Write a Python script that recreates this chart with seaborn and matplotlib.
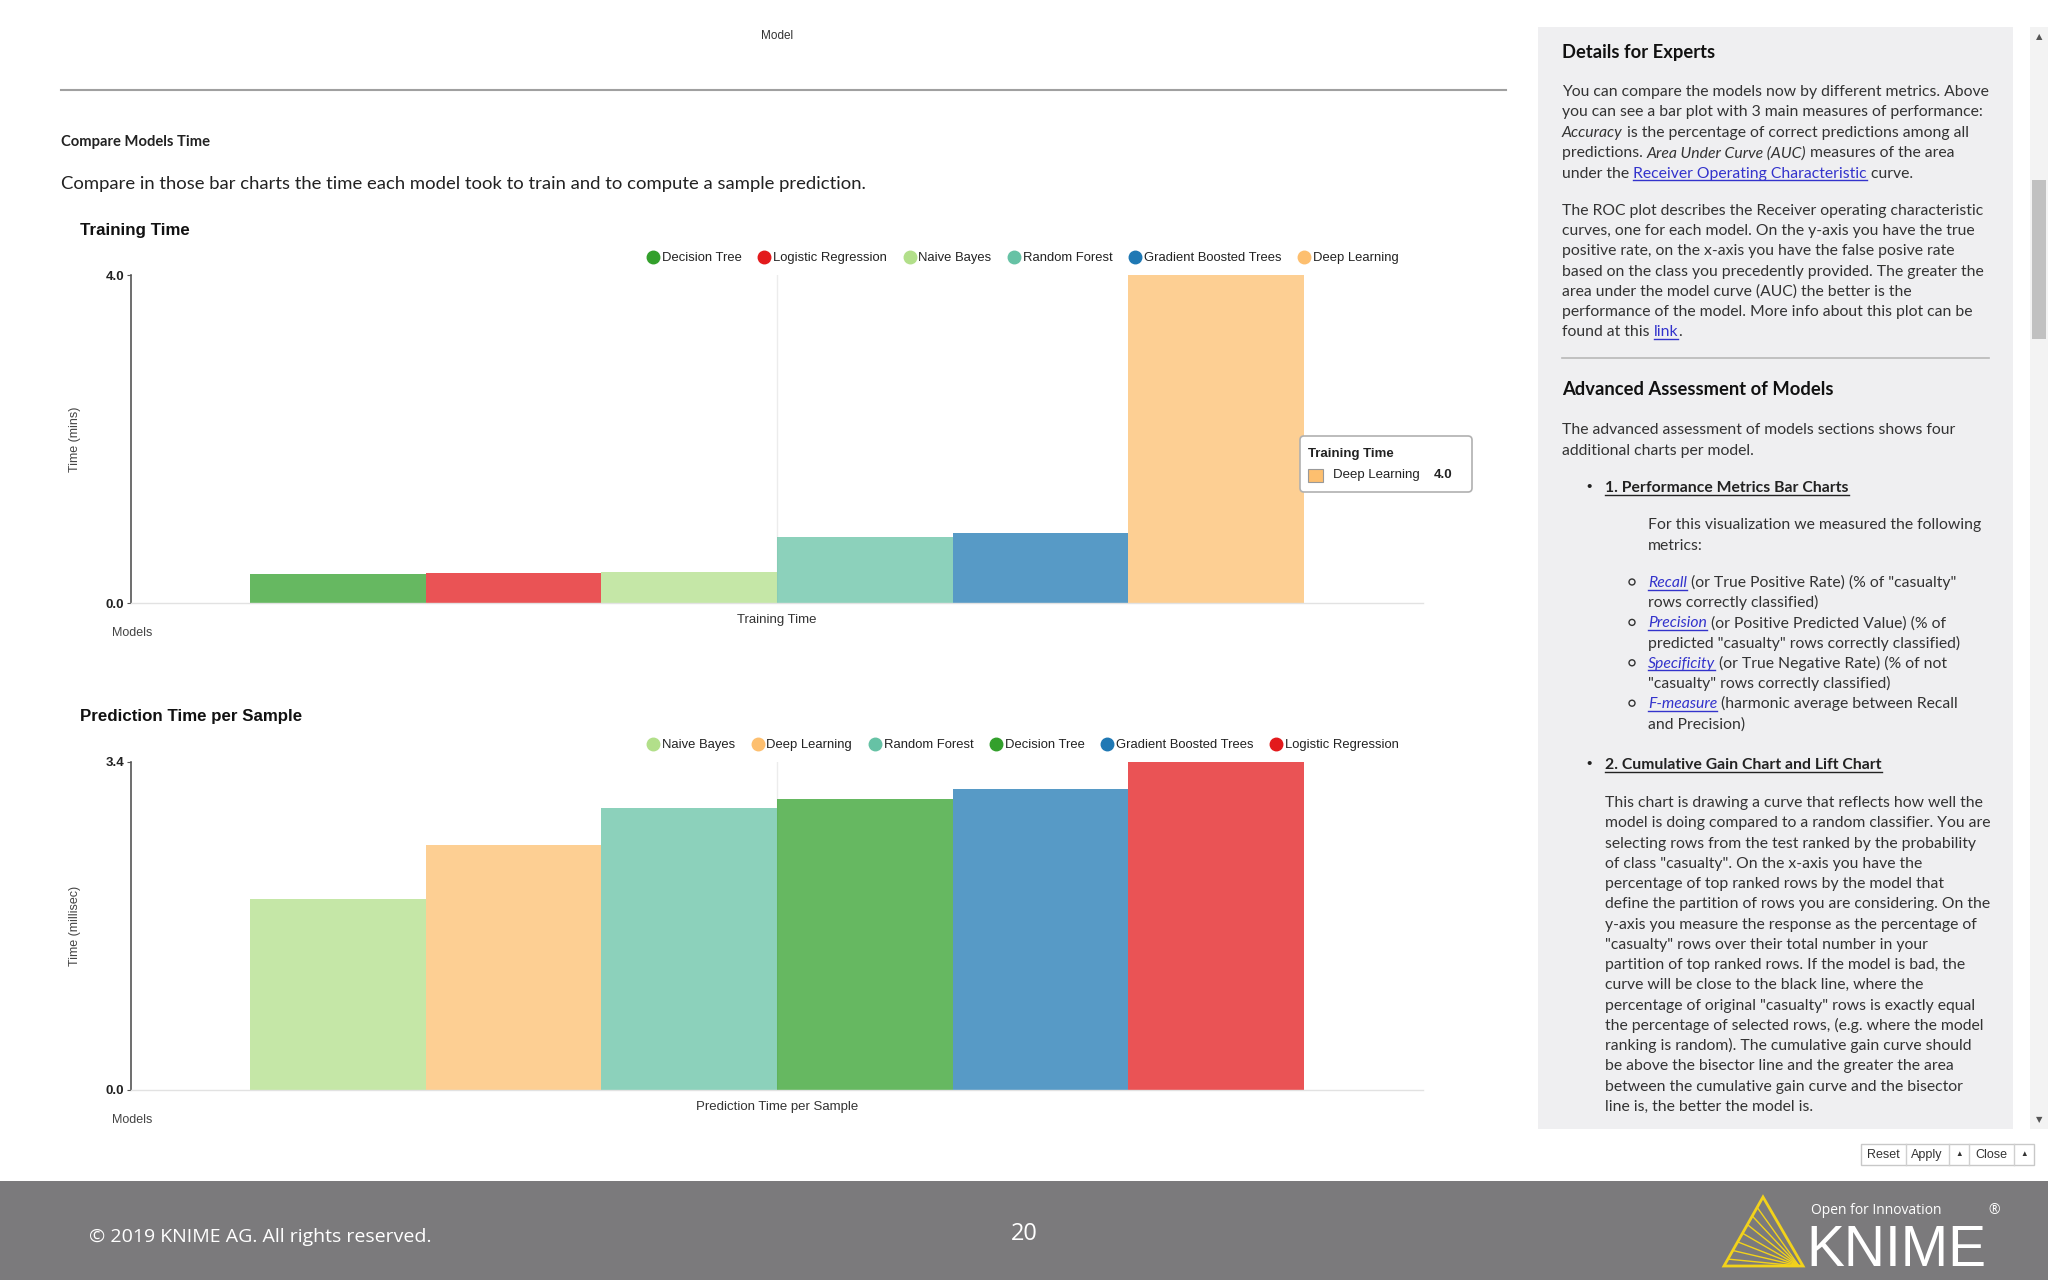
# %%
import numpy as np
import matplotlib.pyplot as plt
import pandas as pd
import seaborn as sns
from matplotlib.lines import Line2D
from matplotlib.patches import Rectangle, FancyBboxPatch, Polygon
from matplotlib.font_manager import FontProperties

plt.rcParams['font.family'] = ['Liberation Sans', 'DejaVu Sans']

# %%
# data
train_models = ['Decision Tree', 'Logistic Regression', 'Naive Bayes',
                'Random Forest', 'Gradient Boosted Trees', 'Deep Learning']
train_mins = [0.35, 0.365, 0.378, 0.805, 0.855, 4.0]

pred_models = ['Naive Bayes', 'Deep Learning', 'Random Forest',
               'Decision Tree', 'Gradient Boosted Trees', 'Logistic Regression']
pred_ms = [1.98, 2.54, 2.92, 3.02, 3.12, 3.4]

model_colors = {'Decision Tree': '#33a02c', 'Logistic Regression': '#e31a1c',
                'Naive Bayes': '#b2df8a', 'Random Forest': '#66c2a5',
                'Gradient Boosted Trees': '#1f78b4', 'Deep Learning': '#fdbf6f'}

W, H = 2048, 1280
fig = plt.figure(figsize=(W / 100, H / 100), dpi=100)
fig.patch.set_facecolor('white')


# %%
def bar_chart(top, models, values, group):
    bottom = top + 328
    ax = fig.add_axes([131 / W, 1 - bottom / H, (1423 - 131) / W, 328 / H])
    df = pd.DataFrame({'group': group, 'model': models, 'value': values})
    ax.axvline(0, color='#ececec', lw=1, zorder=0)
    sns.barplot(data=df, x='group', y='value', hue='model', hue_order=models,
                palette=model_colors, saturation=1, width=0.816, alpha=0.75,
                linewidth=0, legend=False, ax=ax)
    ymax = max(values)
    ax.set_xlim(-0.5, 0.5)
    ax.set_ylim(0, ymax)
    ax.set_yticks([0, ymax])
    ax.set_yticklabels(['0.0', f'{ymax:.1f}'], fontweight='bold')
    ax.tick_params(axis='y', length=3, color='#555', labelsize=9.5, labelcolor='#222', pad=2)
    ax.tick_params(axis='x', length=0, labelsize=9.5, labelcolor='#333', pad=8)
    ax.set_xlabel('')
    ax.set_ylabel('')
    ax.set_facecolor('none')
    for s in ['top', 'right']:
        ax.spines[s].set_visible(False)
    ax.spines['left'].set_color('#555')
    ax.spines['left'].set_linewidth(1.2)
    ax.spines['bottom'].set_color('#e2e2e2')
    ax.spines['bottom'].set_linewidth(1)
    handles = [Line2D([], [], marker='o', ls='None', markersize=9,
                      markerfacecolor=model_colors[m], markeredgecolor=model_colors[m])
               for m in models]
    ax.legend(handles, models, ncol=6, loc='center right',
              bbox_to_anchor=(0.981, 1 + 17 / 328), frameon=False, fontsize=9.4,
              handlelength=0.95, handletextpad=0.2, columnspacing=1.25,
              borderaxespad=0, borderpad=0, labelcolor='#222')
    return ax


ax1 = bar_chart(275, train_models, train_mins, 'Training Time')
ax2 = bar_chart(762, pred_models, pred_ms, 'Prediction Time per Sample')

# page overlay in pixel coordinates
pg = fig.add_axes([0, 0, 1, 1])
pg.set_xlim(0, W)
pg.set_ylim(H, 0)
pg.set_autoscale_on(False)
pg.axis('off')
pg.patch.set_alpha(0)

renderer = fig.canvas.get_renderer()
PANEL_FONT = 'Lato'
TXT = '#333333'
LINK = '#3333cc'
BODY = 11.3


def seg_width(s, fp):
    w1 = renderer.get_text_width_height_descent('|' + s + '|', fp, ismath=False)[0]
    w0 = renderer.get_text_width_height_descent('||', fp, ismath=False)[0]
    return w1 - w0


def rich(x, y, segs, size=BODY, color=TXT, family=PANEL_FONT):
    # y is the line centre, text drawn on a baseline a bit lower
    base = y + size * 0.45
    for s, st in segs:
        fp = FontProperties(family=family, size=size,
                            weight='bold' if 'b' in st else 'normal',
                            style='italic' if 'i' in st else 'normal')
        c = LINK if 'l' in st else color
        pg.text(x, base, s, fontproperties=fp, color=c, va='baseline', ha='left')
        w = seg_width(s, fp)
        if 'u' in st or 'l' in st:
            pg.plot([x, x + w], [base + 2.5, base + 2.5], color=c, lw=1)
        x += w


# %% charts decorations
for top, title, ylabel in [(275, 'Training Time', 'Time (mins)'),
                           (762, 'Prediction Time per Sample', 'Time (millisec)')]:
    pg.text(80, top - 45, title, fontsize=12.2, fontweight='bold', color='#111', va='center')
    pg.text(75, top + 164, ylabel, fontsize=9, color='#444', rotation=90, ha='center', va='center')
    pg.text(112, top + 358, 'Models', fontsize=9, color='#444', va='center')

# tooltip
pg.add_patch(FancyBboxPatch((1300, 436), 172, 56, boxstyle='round,pad=0,rounding_size=4',
                            fc='white', ec='#b0b0b0', lw=1.2, zorder=5))
pg.text(1308, 454, 'Training Time', fontsize=9.5, fontweight='bold', color='#222', va='center', zorder=6)
pg.add_patch(Rectangle((1308, 469), 15, 13, fc=model_colors['Deep Learning'], ec='#999', lw=0.8, zorder=6))
pg.text(1333, 475, 'Deep Learning', fontsize=9.5, color='#222', va='center', zorder=6)
pg.text(1434, 475, f'{train_mins[-1]:.1f}', fontsize=9.5, fontweight='bold', color='#222', va='center', zorder=6)

# top of page
pg.text(777, 36, 'Model', fontsize=8.5, color='#333', ha='center', va='center')
pg.plot([61, 1506], [90, 90], color='#a0a0a0', lw=1.5)
rich(61, 141, [('Compare Models Time', 'b')], size=10.6, color='#222')
rich(61, 183, [('Compare in those bar charts the time each model took to train and to compute a sample prediction.', '')],
     size=13.3, color='#222')

# %% right panel
pg.add_patch(Rectangle((1538, 27), 475, 1102, fc='#efeff1', ec='none'))
pg.add_patch(Rectangle((2030, 27), 18, 1102, fc='#f3f3f3', ec='none'))
pg.add_patch(Rectangle((2032, 180), 14, 159, fc='#c1c1c1', ec='none'))
pg.text(2039, 37, '▲', fontsize=6, color='#555', ha='center', va='center', family='DejaVu Sans')
pg.text(2039, 1120, '▼', fontsize=6, color='#555', ha='center', va='center', family='DejaVu Sans')

X0 = 1562
rich(X0, 52, [('Details for Experts', 'b')], size=13.2, color='#111')
para1 = [[('You can compare the models now by different metrics. Above', '')],
         [('you can see a bar plot with 3 main measures of performance:', '')],
         [('Accuracy', 'i'), (' is the percentage of correct predictions among all', '')],
         [('predictions. ', ''), ('Area Under Curve (AUC)', 'i'), (' measures of the area', '')],
         [('under the ', ''), ('Receiver Operating Characteristic', 'l'), (' curve.', '')]]
for i, segs in enumerate(para1):
    rich(X0, 91 + 20.4 * i, segs)
para2 = ['The ROC plot describes the Receiver operating characteristic',
         'curves, one for each model. On the y-axis you have the true',
         'positive rate, on the x-axis you have the false posive rate',
         'based on the class you precedently provided. The greater the',
         'area under the model curve (AUC) the better is the',
         'performance of the model. More info about this plot can be']
for i, s in enumerate(para2):
    rich(X0, 210 + 20.2 * i, [(s, '')])
rich(X0, 210 + 20.2 * 6, [('found at this ', ''), ('link', 'l'), ('.', '')])
pg.plot([X0, 1989], [358, 358], color='#b8b8b8', lw=1.2)
rich(X0, 389, [('Advanced Assessment of Models', 'b')], size=13.2, color='#111')
rich(X0, 429, [('The advanced assessment of models sections shows four', '')])
rich(X0, 450, [('additional charts per model.', '')])

pg.text(1589, 487, '•', fontsize=11, color='#222', ha='center', va='center')
rich(1605, 487, [('1. Performance Metrics Bar Charts', 'bu')], color='#222')
rich(1648, 524, [('For this visualization we measured the following', '')])
rich(1648, 545, [('metrics:', '')])
sub = [[('Recall', 'il'), (' (or True Positive Rate) (% of "casualty"', '')],
       [('rows correctly classified)', '')],
       [('Precision', 'il'), (' (or Positive Predicted Value) (% of', '')],
       [('predicted "casualty" rows correctly classified)', '')],
       [('Specificity', 'il'), (' (or True Negative Rate) (% of not', '')],
       [('"casualty" rows correctly classified)', '')],
       [('F-measure', 'il'), (' (harmonic average between Recall', '')],
       [('and Precision)', '')]]
for i, segs in enumerate(sub):
    y = 582 + 20.2 * i
    if i % 2 == 0:
        pg.add_patch(plt.Circle((1632, y), 3, fc='none', ec='#333', lw=1))
    rich(1648, y, segs)

pg.text(1589, 764, '•', fontsize=11, color='#222', ha='center', va='center')
rich(1605, 764, [('2. Cumulative Gain Chart and Lift Chart', 'bu')], color='#222')
para3 = ['This chart is drawing a curve that reflects how well the',
         'model is doing compared to a random classifier. You are',
         'selecting rows from the test ranked by the probability',
         'of class "casualty". On the x-axis you have the',
         'percentage of top ranked rows by the model that',
         'define the partition of rows you are considering. On the',
         'y-axis you measure the response as the percentage of',
         '"casualty" rows over their total number in your',
         'partition of top ranked rows. If the model is bad, the',
         'curve will be close to the black line, where the',
         'percentage of original "casualty" rows is exactly equal',
         'the percentage of selected rows, (e.g. where the model',
         'ranking is random). The cumulative gain curve should',
         'be above the bisector line and the greater the area',
         'between the cumulative gain curve and the bisector',
         'line is, the better the model is.']
for i, s in enumerate(para3):
    rich(1605, 802 + 20.25 * i, [(s, '')])

# buttons
pg.add_patch(Rectangle((1861, 1144), 173, 21, fc='white', ec='#c8c8c8', lw=1))
for xd in [1906, 1949, 1969, 2014]:
    pg.plot([xd, xd], [1144, 1165], color='#d0d0d0', lw=1)
for xc, lab in [(1883, 'Reset'), (1927, 'Apply'), (1959, '▲'), (1991, 'Close'), (2024, '▲')]:
    pg.text(xc, 1155, lab, fontsize=9 if len(lab) > 1 else 5.5, color='#333', ha='center', va='center',
            family=['Liberation Sans', 'DejaVu Sans'])

# %% footer
pg.add_patch(Rectangle((0, 1181), W, 99, fc='#7b7a7c', ec='none'))
pg.text(89, 1237, '© 2019 KNIME AG. All rights reserved.', fontsize=14, color='white',
        va='center', family='Open Sans')
pg.text(1024, 1234, '20', fontsize=17, color='white', ha='center', va='center', family='Open Sans')
yel = '#f2d21b'
apex, bl, br = (1763, 1197), (1724, 1266), (1803, 1266)
pg.add_patch(Polygon([apex, bl, br], closed=True, fc='none', ec=yel, lw=2))
for t in np.linspace(0.15, 0.9, 7):
    px = apex[0] + (bl[0] - apex[0]) * t
    py = apex[1] + (bl[1] - apex[1]) * t
    pg.plot([px, br[0] - 4], [py, br[1]], color=yel, lw=1)
pg.text(1806, 1266, 'KNIME', fontsize=41, color='white', va='baseline', family='Liberation Sans')
pg.text(1811, 1211, 'Open for Innovation', fontsize=10, color='white', va='center', family='Open Sans')
pg.text(1988, 1211, '®', fontsize=10, color='white', va='center', family='Open Sans')

plt.savefig('out.png', dpi=100)
